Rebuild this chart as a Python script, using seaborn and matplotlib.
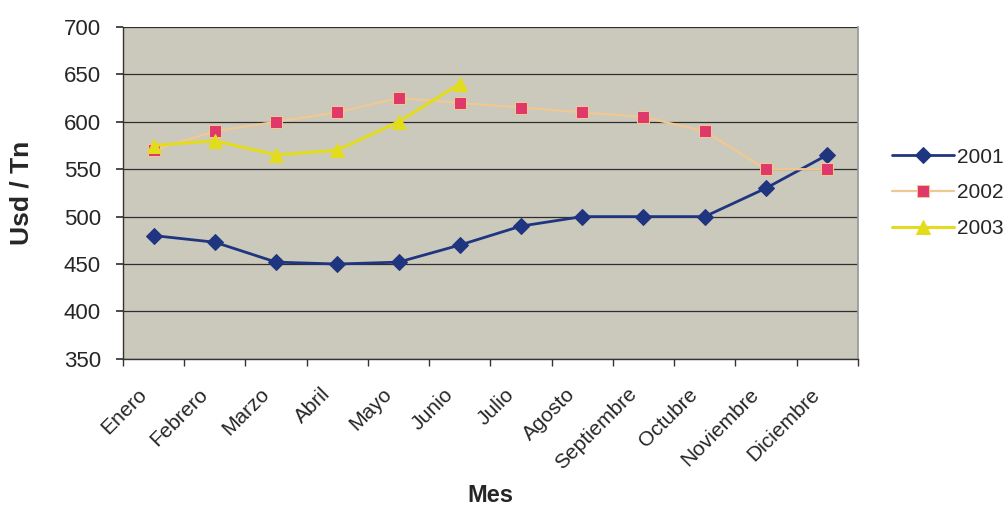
import matplotlib
matplotlib.use("Agg")
import numpy as np
import pandas as pd
import matplotlib.pyplot as plt
import matplotlib.transforms as mtransforms
import seaborn as sns

# Data
meses = ["Enero", "Febrero", "Marzo", "Abril", "Mayo", "Junio", "Julio",
         "Agosto", "Septiembre", "Octubre", "Noviembre", "Diciembre"]
precio_2001 = [480, 473, 452, 450, 452, 470, 490, 500, 500, 500, 530, 565]
precio_2002 = [570, 590, 600, 610, 625, 620, 615, 610, 605, 590, 550, 550]
precio_2003 = [575, 580, 565, 570, 600, 640]

sns.set_theme(style="white")
plt.rcParams["font.family"] = ["Liberation Sans", "DejaVu Sans"]

fig = plt.figure(figsize=(10.08, 5.09), dpi=100)
ax = fig.add_axes([0.122, 0.295, 0.729, 0.652])
ax.set_facecolor("#cbc9bb")

pos = np.arange(len(meses))
df01 = pd.DataFrame({"x": pos, "y": precio_2001})
df02 = pd.DataFrame({"x": pos, "y": precio_2002})
df03 = pd.DataFrame({"x": pos[:len(precio_2003)], "y": precio_2003})

sns.lineplot(data=df01, x="x", y="y", ax=ax, color="#1f3580", lw=2,
             marker="D", markersize=8, markerfacecolor="#1f3580",
             markeredgecolor="#1f3580", label="2001", zorder=3)
sns.lineplot(data=df02, x="x", y="y", ax=ax, color="#f0c894", lw=1.6,
             marker="s", markersize=8, markerfacecolor="#e0386a",
             markeredgecolor="#f0c894", label="2002", zorder=3)
sns.lineplot(data=df03, x="x", y="y", ax=ax, color="#e3dc1c", lw=2.2,
             marker="^", markersize=10, markerfacecolor="#e3dc1c",
             markeredgecolor="#e3dc1c", label="2003", zorder=4)

ax.set_xlim(-0.5, len(meses) - 0.5)
ax.set_ylim(350, 700)
ax.set_yticks(range(350, 701, 50))
ax.yaxis.grid(True, color="#2e2e2e", lw=0.9)
ax.set_axisbelow(True)

ax.set_xticks(pos)
ax.set_xticklabels(meses, rotation=45, ha="right", va="center",
                   rotation_mode="anchor", fontsize=15)
ax.tick_params(axis="x", length=0, pad=19)
# shift the rotated labels a little left and down, like the Excel original
shift = mtransforms.ScaledTranslation(-10 / 100, -6 / 100, fig.dpi_scale_trans)
for lbl in ax.get_xticklabels():
    lbl.set_transform(lbl.get_transform() + shift)

# Excel-style ticks between categories
ax.set_xticks(np.arange(-0.5, len(meses), 1), minor=True)
ax.tick_params(axis="x", which="minor", length=5, color="#333333",
               direction="out", bottom=True)
ax.tick_params(axis="y", labelsize=16, length=5, color="#333333",
               direction="out", left=True, pad=11)

for side in ["left", "bottom"]:
    ax.spines[side].set_color("#333333")
    ax.spines[side].set_linewidth(1)
ax.spines["top"].set_visible(False)
ax.spines["right"].set_color("#999999")

ax.set_xlabel("Mes", fontsize=17, fontweight="bold")
ax.xaxis.label.set_va("center")
ax.xaxis.set_label_coords(0.5, (1 - 495 / 509 - 0.295) / 0.652)
ax.set_ylabel("Usd / Tn", fontsize=19, fontweight="bold", labelpad=22)

ax.legend(loc="center left", bbox_to_anchor=(1.046, 0.5), frameon=False,
          fontsize=15, handlelength=3.0, handletextpad=0.15,
          labelspacing=0.8, borderpad=0, borderaxespad=0)

fig.savefig("out.png", dpi=100, facecolor="white")
